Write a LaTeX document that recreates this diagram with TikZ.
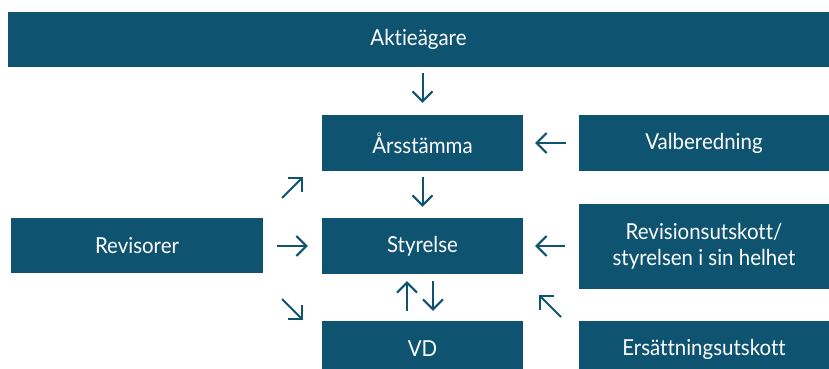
\documentclass[tikz,border=0pt]{standalone}
\usepackage{fontspec}
\setmainfont[FakeStretch=0.93,Ligatures={NoCommon}]{Lato}
\usetikzlibrary{arrows.meta,calc}
\definecolor{boxblue}{HTML}{0E5370}
\begin{document}
\begin{tikzpicture}[x=1pt,y=-1pt,
  box/.style={fill=boxblue,draw=none,text=white,inner sep=0pt,
    font=\fontsize{22}{26}\selectfont,align=center},
  arr/.style={draw=boxblue,line width=2pt,
    -{Straight Barb[length=10pt,width=20pt,line width=2pt]}}]
\useasboundingbox (0,0) rectangle (829,369);
\clip (0,0) rectangle (829,369);
% boxes
\node[box,minimum width=821,minimum height=55] (akt) at (418.5,39.5) {Aktieägare};
\node[box,minimum width=201,minimum height=56] (ars) at (422.5,143) {Årsstämma};
\node[box,minimum width=250,minimum height=56] (val) at (704,143) {Valberedning};
\node[box,minimum width=252,minimum height=55] (rev) at (137,245.5) {Revisorer};
\node[box,minimum width=201,minimum height=56] (sty) at (422.5,246) {Styrelse};
\node[box,minimum width=250,minimum height=85] (revu) at (704,246.5) {Revisionsutskott/\\styrelsen i sin helhet};
\node[box,minimum width=201,minimum height=56] (vd) at (422.5,349) {VD};
\node[box,minimum width=250,minimum height=56] (ers) at (704,349) {Ersättningsutskott};
% free arrow ends
\coordinate (d1s) at (282,198);
\coordinate (d1e) at (303,177);
\coordinate (d2s) at (282,299);
\coordinate (d2e) at (303,320);
\coordinate (d3s) at (561,317);
\coordinate (d3e) at (539,295);
% arrows
\draw[arr,shorten <=6pt,shorten >=12pt] (akt.south -| ars.north) -- (ars.north);
\draw[arr,shorten <=6pt,shorten >=11pt] (ars.south) -- (sty.north);
\draw[arr,shorten <=13pt,shorten >=12pt] (val.west) -- (ars.east);
\draw[arr,shorten <=14pt,shorten >=12pt] (revu.west |- sty.east) -- (sty.east);
\draw[arr,shorten <=14pt,shorten >=14pt] (rev.east |- sty.west) -- (sty.west);
\draw[arr] (d1s) -- (d1e);
\draw[arr] (d2s) -- (d2e);
\draw[arr] (d3s) -- (d3e);
\draw[arr,shorten <=10pt,shorten >=7pt] ([xshift=-15.5pt]vd.north) -- ([xshift=-15.5pt]sty.south);
\draw[arr,shorten <=7pt,shorten >=10pt] ([xshift=10.5pt]sty.south) -- ([xshift=10.5pt]vd.north);
\end{tikzpicture}
\end{document}
